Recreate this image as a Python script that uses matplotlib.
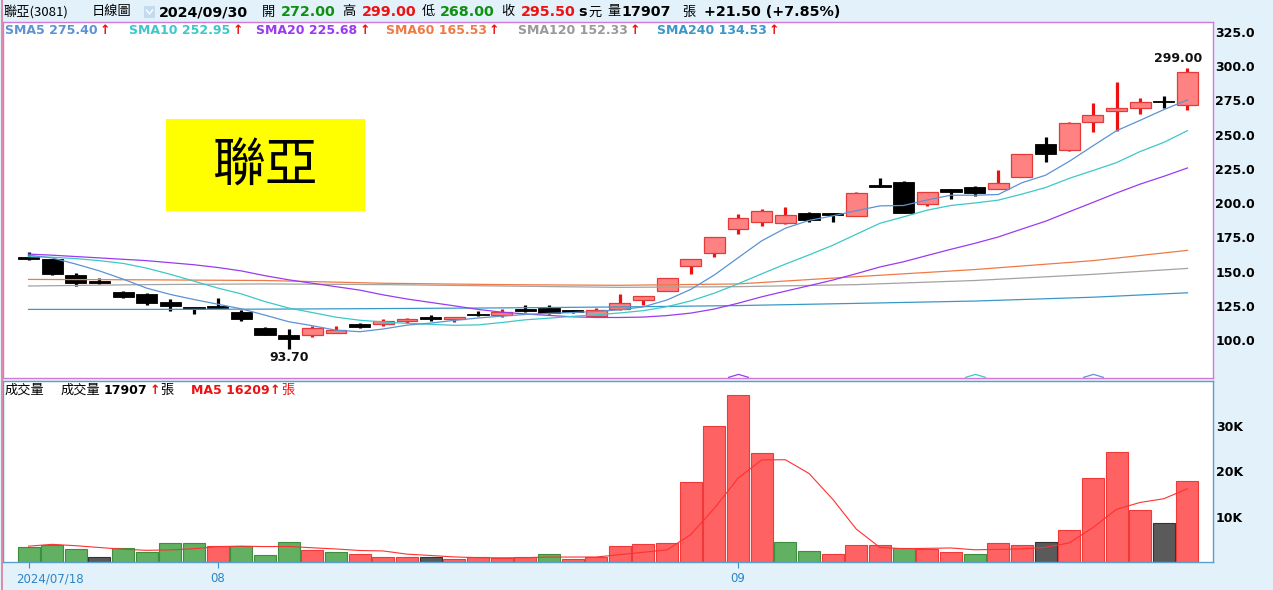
import numpy as np
import matplotlib.pyplot as plt
from matplotlib.patches import Rectangle
from matplotlib.lines import Line2D
from matplotlib.transforms import ScaledTranslation, blended_transform_factory

plt.rcParams['font.family'] = ['DejaVu Sans', 'Noto Sans CJK TC']
CJK = ['Noto Sans CJK TC', 'DejaVu Sans']

W, H = 1273, 590

# daily candles 2024/07/18 .. 2024/09/30 (50 trading days)
opens = [160.0, 159.0, 147.5, 143.0, 135.3, 134.0, 127.5, 123.5, 124.5, 120.7,
         109.0, 104.0, 103.7, 105.0, 111.5, 111.5, 113.9, 117.0, 115.4, 119.0,
         118.3, 122.5, 123.2, 122.0, 117.8, 122.4, 129.3, 136.0, 154.3, 163.3,
         181.1, 186.4, 185.3, 193.0, 192.5, 190.8, 212.5, 215.7, 199.1, 210.1,
         212.0, 210.1, 219.3, 243.0, 238.8, 259.0, 267.3, 269.7, 274.5, 272.0]
highs = [164.5, 159.5, 149.2, 145.0, 135.5, 134.3, 129.7, 123.5, 131.0, 121.9,
         109.2, 108.0, 110.2, 110.0, 112.4, 115.1, 116.3, 118.3, 117.2, 121.4,
         122.4, 125.5, 125.6, 122.0, 123.6, 134.0, 132.5, 145.2, 159.5, 175.0,
         191.8, 195.5, 197.0, 193.2, 192.5, 207.8, 218.1, 216.5, 208.5, 210.3,
         212.2, 224.2, 235.9, 248.5, 259.0, 273.4, 288.7, 277.0, 278.3, 299.0]
lows = [158.8, 147.5, 139.5, 141.0, 130.8, 125.4, 121.4, 119.0, 123.5, 114.1,
        103.9, 93.7, 102.4, 104.9, 108.8, 110.2, 112.2, 114.1, 113.5, 117.8,
        117.0, 120.8, 119.0, 119.5, 117.8, 122.0, 125.6, 135.8, 148.0, 160.5,
        177.4, 183.5, 184.5, 186.0, 186.0, 190.8, 212.0, 192.6, 198.1, 202.8,
        205.2, 210.0, 219.3, 230.0, 238.0, 252.2, 252.9, 265.1, 269.2, 268.0]
closes = [159.6, 148.0, 141.5, 141.5, 131.8, 127.0, 125.0, 123.0, 124.0, 115.1,
          104.0, 101.0, 108.5, 107.3, 109.7, 113.9, 115.3, 115.3, 117.0, 118.3,
          120.7, 121.3, 120.0, 120.3, 122.0, 126.8, 132.2, 145.0, 159.2, 175.0,
          188.9, 194.2, 191.3, 187.7, 191.5, 207.6, 212.0, 192.6, 208.3, 208.5,
          207.6, 214.5, 235.7, 235.7, 258.8, 264.4, 269.7, 274.0, 274.0, 295.5]

sma5 = [162.0, 160.0, 155.5, 150.5, 144.5, 137.9, 133.3, 129.6, 126.2, 122.8,
        118.2, 113.4, 110.5, 107.2, 106.1, 108.1, 110.9, 112.4, 114.4, 116.1,
        117.5, 118.7, 119.5, 120.1, 120.9, 122.1, 124.3, 129.3, 137.0, 147.6,
        160.1, 172.5, 181.7, 187.4, 190.7, 194.5, 198.0, 198.3, 202.4, 205.8,
        205.8, 206.3, 214.9, 220.4, 230.5, 241.8, 252.9, 260.5, 268.3, 275.4]
sma10 = [160.9, 160.5, 159.5, 158.0, 156.0, 152.5, 148.0, 143.0, 138.0, 133.7,
         128.1, 123.4, 120.1, 116.7, 114.5, 113.2, 112.2, 111.5, 110.8, 111.1,
         112.8, 114.8, 116.0, 117.3, 118.5, 119.8, 121.5, 124.4, 128.6, 134.3,
         141.1, 148.4, 155.5, 162.2, 169.2, 177.3, 185.3, 190.0, 194.9, 198.3,
         200.1, 202.2, 206.6, 211.4, 218.1, 223.8, 229.6, 237.7, 244.4, 252.95]
sma20 = [162.8, 162.0, 161.0, 160.0, 159.0, 158.0, 156.5, 155.0, 153.0, 150.5,
         147.0, 144.0, 141.5, 139.0, 136.5, 133.0, 130.0, 127.5, 125.0, 122.4,
         120.4, 119.1, 118.0, 117.0, 116.5, 116.5, 116.8, 117.9, 119.7, 122.7,
         126.9, 131.6, 135.7, 139.7, 143.8, 148.5, 153.4, 157.2, 161.8, 166.3,
         170.6, 175.3, 181.1, 186.8, 193.7, 200.5, 207.4, 213.9, 219.6, 225.68]
long_idx = [0, 5, 10, 15, 20, 25, 30, 35, 40, 45, 49]
sma60 = [144.3, 144.0, 143.5, 141.5, 140.5, 140.0, 141.0, 146.3, 151.5, 158.0, 165.53]
sma120 = [139.5, 140.5, 141.0, 140.5, 139.5, 138.5, 139.0, 140.5, 143.5, 148.0, 152.33]
sma240 = [122.4, 122.4, 122.6, 123.0, 123.5, 124.2, 125.2, 126.8, 128.5, 131.3, 134.53]

vols = [3300, 3800, 2800, 1200, 3000, 2100, 4300, 4100, 3500, 3500,
        1600, 4500, 2600, 2200, 1800, 1100, 1000, 1100, 600, 1000,
        900, 1200, 1700, 700, 1000, 3500, 3900, 4300, 17600, 30100,
        36800, 24000, 4500, 2400, 1700, 3700, 3700, 3200, 2800, 2100,
        1700, 4100, 3800, 4500, 7000, 18600, 24300, 11400, 8600, 17907]
vol_dir = ['d', 'd', 'd', 'f', 'd', 'd', 'd', 'd', 'u', 'd',
           'd', 'd', 'u', 'd', 'u', 'u', 'u', 'f', 'u', 'u',
           'u', 'u', 'd', 'u', 'u', 'u', 'u', 'u', 'u', 'u',
           'u', 'u', 'd', 'd', 'u', 'u', 'u', 'd', 'u', 'u',
           'd', 'u', 'u', 'f', 'u', 'u', 'u', 'u', 'f', 'u']
vol_ma5 = [3500, 3900, 3600, 3200, 2820, 2580, 2680, 2940, 3400, 3500,
           3400, 3440, 3140, 2880, 2540, 2440, 1740, 1440, 1120, 960,
           920, 960, 1080, 1100, 1100, 1620, 2160, 2680, 6060, 11880,
           18540, 22560, 22600, 19560, 13880, 7260, 3200, 2940, 3020, 3100,
           2700, 2780, 2900, 3240, 4220, 7600, 11640, 13160, 13980, 16209]

date_ticks = [0, 8, 30]
date_labels = ['2024/07/18', '08', '09']
price_ticks = [100, 125, 150, 175, 200, 225, 250, 275, 300, 325]
vol_ticks = [10000, 20000, 30000]
vol_tick_labels = ['10K', '20K', '30K']
signal_idx = [30, 40, 45]

C5, C10, C20 = '#5b93d3', '#3cc8c8', '#9b3af0'
C60, C120, C240 = '#f07a45', '#a3a3a3', '#3a98c8'
RED, GREEN = '#ee1111', '#109010'


def fx(x):
    return x / W


def fy(y):
    return 1 - y / H


fig = plt.figure(figsize=(W / 100, H / 100), dpi=100, facecolor='#e3f1fb')

ax = fig.add_axes([fx(3), fy(378), fx(1213) - fx(3), fy(22) - fy(378)])
axv = fig.add_axes([fx(3), fy(562), fx(1213) - fx(3), fy(381) - fy(562)])

x = np.arange(len(closes))
o = np.array(opens)
c = np.array(closes)
up = c > o

# wicks
ax.vlines(x, lows, highs, colors=np.where(up, RED, 'black'), lw=2.3, zorder=2)
# bodies (flat ones get a minimum visible thickness)
bot = np.minimum(o, c)
hgt = np.maximum(np.abs(c - o), 1.4)
ax.bar(x[up], hgt[up], bottom=bot[up], width=0.88, color='#ff8282',
       edgecolor='#e43a3a', lw=0.9, zorder=3)
ax.bar(x[~up], hgt[~up], bottom=bot[~up] - (hgt[~up] - np.abs(c - o)[~up]) / 2,
       width=0.9, color='black', edgecolor='black', lw=0.6, zorder=3)

ax.plot(long_idx, sma240, color=C240, lw=0.9, zorder=4)
ax.plot(long_idx, sma120, color=C120, lw=0.9, zorder=4)
ax.plot(long_idx, sma60, color=C60, lw=0.9, zorder=4)
ax.plot(x, sma20, color=C20, lw=0.9, zorder=4)
ax.plot(x, sma10, color=C10, lw=0.9, zorder=4)
ax.plot(x, sma5, color=C5, lw=0.9, zorder=4)

tr = blended_transform_factory(ax.transData, ax.transAxes)
for i, col in zip(signal_idx, [C20, C10, C5]):
    ax.plot([i], [0.003], transform=tr, marker=[(-1, 0), (0, 0.3), (1, 0)],
            ms=15, mfc='none', mec=col, mew=0.9, lw=0, clip_on=False, zorder=5)

ax.annotate(f'{max(highs):.2f}', xy=(49, max(highs)), xytext=(-7, 2),
            textcoords='offset points', ha='center', va='bottom',
            fontsize=9, fontweight='bold', color='#111111')
ax.annotate(f'{min(lows):.2f}', xy=(11, min(lows)), xytext=(0, -2),
            textcoords='offset points', ha='center', va='top',
            fontsize=9, fontweight='bold', color='#111111')

ax.set_xlim(-1.08, 50.08)
ax.set_ylim(72.3, 332.3)
ax.set_facecolor('white')
ax.set_xticks([])
ax.yaxis.tick_right()
ax.set_yticks(price_ticks)
ax.set_yticklabels([f'{t:.1f}' for t in price_ticks], fontweight='bold')
ax.tick_params(axis='y', length=0, pad=1.5, labelsize=9)
for s in ax.spines.values():
    s.set_color('#d07ad8')
    s.set_linewidth(1)

# volume
vcol = {'u': '#ff6262', 'd': '#62b062', 'f': '#5a5a5a'}
vedge = {'u': '#f03a3a', 'd': '#3d8f3d', 'f': '#333333'}
axv.bar(x, vols, width=0.93, color=[vcol[d] for d in vol_dir],
        edgecolor=[vedge[d] for d in vol_dir], lw=0.8, zorder=2)
axv.plot(x, vol_ma5, color='#ff3030', lw=0.8, zorder=3)
axv.set_xlim(-1.08, 50.08)
axv.set_ylim(0, 40000)
axv.set_facecolor('white')
axv.yaxis.tick_right()
axv.set_yticks(vol_ticks)
axv.set_yticklabels(vol_tick_labels, fontweight='bold')
axv.tick_params(axis='y', length=0, pad=2, labelsize=9)
axv.set_xticks(date_ticks)
axv.set_xticklabels(date_labels)
axv.tick_params(axis='x', length=4.5, width=0.8, color='#3a90d0', pad=3,
                labelsize=8.5, labelcolor='#2a86c8')
first = axv.get_xticklabels()[0]
first.set_horizontalalignment('left')
first.set_transform(first.get_transform() + ScaledTranslation(-0.125, 0, fig.dpi_scale_trans))
for s in axv.spines.values():
    s.set_color('#5a9fcc')
    s.set_linewidth(1)

# left edge line
fig.add_artist(Line2D([fx(2), fx(2)], [0, 1], color='#e07898', lw=1.2))

# big name box
fig.add_artist(Rectangle((fx(166), fy(211)), fx(365) - fx(166), fy(119) - fy(211),
                         facecolor='#ffff00', edgecolor='none', transform=fig.transFigure))
fig.text(fx(265), fy(166), '聯亞', family=CJK, fontsize=38, ha='center', va='center',
         color='black')


def seg(px, txt, color='black', bold=False, cjk=False, size=10.3, y=12):
    fig.text(fx(px), fy(y), txt, color=color, fontsize=size, va='center', ha='left',
             fontweight='bold' if bold else 'normal',
             family=CJK if cjk else ['DejaVu Sans', 'Noto Sans CJK TC'])


# header row
seg(3, '聯亞(3081)', cjk=True, size=9.5)
seg(92, '日線圖', cjk=True, size=9.5)
fig.add_artist(Rectangle((fx(144), fy(18)), fx(11), fy(6) - fy(18), facecolor='#c2dbef',
                         edgecolor='none', transform=fig.transFigure))
fig.add_artist(Line2D([fx(146.5), fx(149.5), fx(152.5)], [fy(10), fy(14), fy(10)],
                      color='white', lw=1))
seg(159, '2024/09/30', bold=True)
seg(262, '開', cjk=True, size=9.5)
seg(281, f'{opens[-1]:.2f}', color=GREEN, bold=True)
seg(342, '高', cjk=True, size=9.5)
seg(362, f'{highs[-1]:.2f}', color=RED, bold=True)
seg(422, '低', cjk=True, size=9.5)
seg(440, f'{lows[-1]:.2f}', color=GREEN, bold=True)
seg(501, '收', cjk=True, size=9.5)
seg(521, f'{closes[-1]:.2f}', color=RED, bold=True)
seg(578, 's', bold=True)
seg(588, '元', cjk=True, size=9.5)
seg(607, '量', cjk=True, size=9.5)
seg(621, f'{vols[-1]}', bold=True)
seg(682, '張', cjk=True, size=9.5)
chg = closes[-1] - closes[-2]
seg(704, f'+{chg:.2f} (+{chg / closes[-2] * 100:.2f}%)', bold=True)

# SMA legend row
legend = [(5, f'SMA5 {sma5[-1]:.2f}', C5), (129, f'SMA10 {sma10[-1]:.2f}', C10),
          (256, f'SMA20 {sma20[-1]:.2f}', C20), (386, f'SMA60 {sma60[-1]:.2f}', C60),
          (518, f'SMA120 {sma120[-1]:.2f}', '#999999'), (657, f'SMA240 {sma240[-1]:.2f}', C240)]
renderer = fig.canvas.get_renderer()
for px, txt, col in legend:
    t = fig.text(fx(px), fy(31), txt, color=col, fontsize=9, fontweight='bold', va='center')
    r = t.get_window_extent(renderer=renderer)
    fig.text(fx(r.x1 + 2), fy(31), '↑', color=RED, fontsize=9, fontweight='bold', va='center')

# volume header
seg(5, '成交量', cjk=True, size=9.5, y=390)
seg(61, '成交量', cjk=True, size=9.5, y=390)
seg(104, f'{vols[-1]}', bold=True, size=9, y=390)
seg(150, '↑', color=RED, bold=True, size=9, y=390)
seg(160, '張', cjk=True, size=9.5, y=390)
seg(191, f'MA5 {vol_ma5[-1]}', color=RED, bold=True, size=9, y=390)
seg(270, '↑', color=RED, bold=True, size=9, y=390)
seg(281, '張', color=RED, cjk=True, size=9.5, y=390)

fig.savefig('out.png', dpi=100, facecolor=fig.get_facecolor())
